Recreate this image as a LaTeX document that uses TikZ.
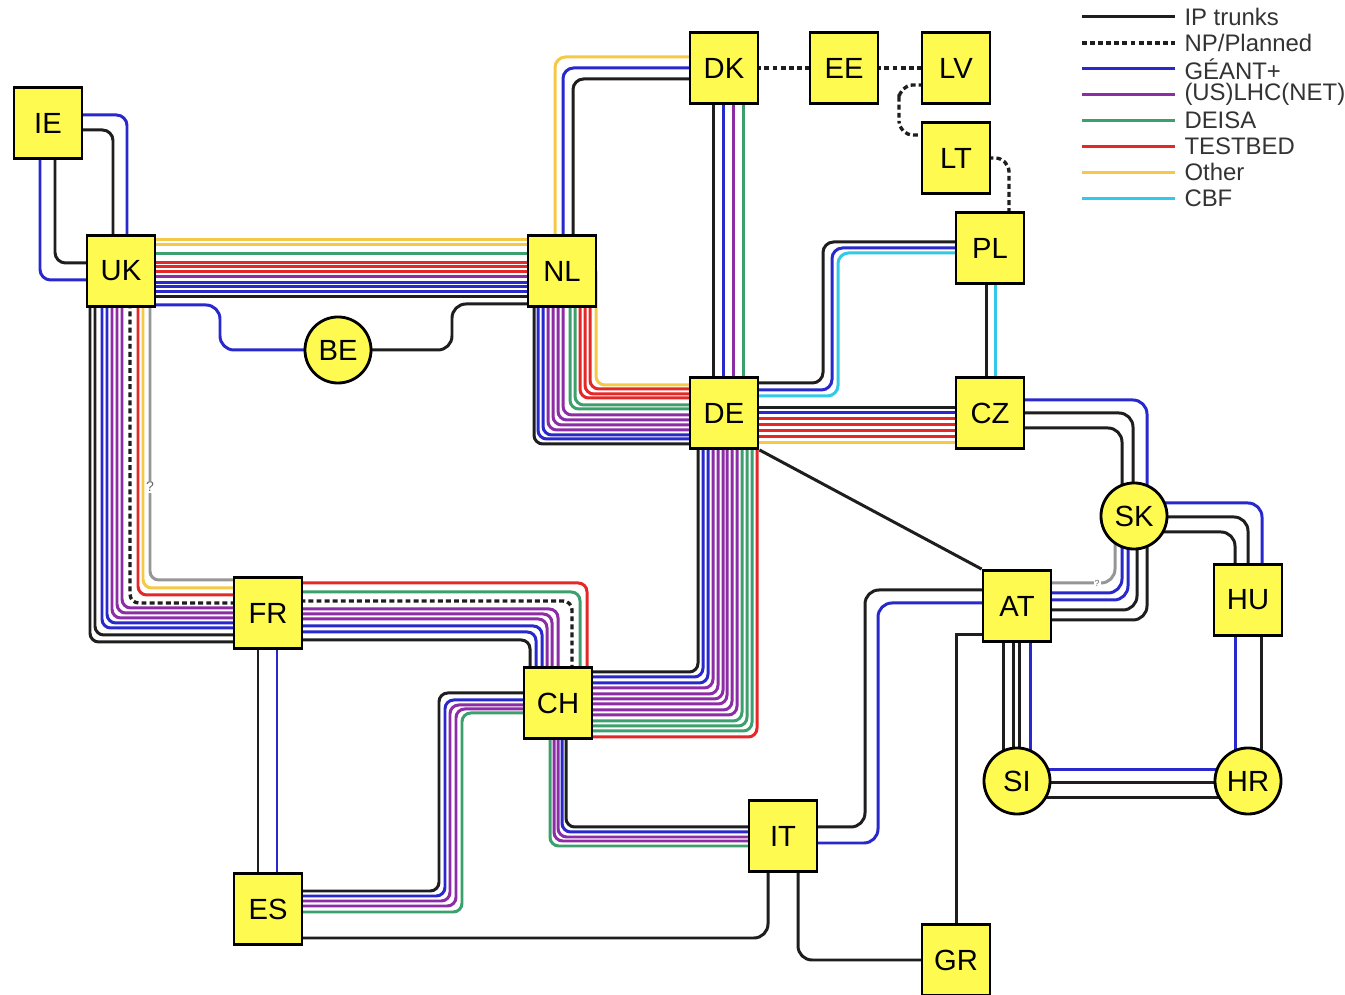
\documentclass[tikz,border=0pt]{standalone}
\usepackage{fontspec}
\setmainfont{Liberation Sans}
\usepackage{tikz}
\usetikzlibrary{calc,backgrounds}

\definecolor{nodeyellow}{RGB}{255,250,80}
\definecolor{linkblack}{RGB}{30,30,30}
\definecolor{linkblue}{RGB}{40,40,205}
\definecolor{linkpurple}{RGB}{140,45,165}
\definecolor{linkgreen}{RGB}{60,160,110}
\definecolor{linkred}{RGB}{228,40,40}
\definecolor{linkyellow}{RGB}{245,200,70}
\definecolor{linkcyan}{RGB}{50,200,232}
\definecolor{linkgray}{RGB}{150,150,150}

\tikzset{
  link/.style={line width=0.85pt, rounded corners=2.5pt},
  iptrunk/.style={link, draw=linkblack},
  planned/.style={link, draw=linkblack, line width=0.95pt, dash pattern=on 1.4pt off 0.9pt},
  geant/.style={link, draw=linkblue},
  lhc/.style={link, draw=linkpurple},
  deisa/.style={link, draw=linkgreen},
  testbed/.style={link, draw=linkred},
  othernet/.style={link, draw=linkyellow},
  cbf/.style={link, draw=linkcyan},
  unknown/.style={link, draw=linkgray},
  country/.style={draw=black, line width=0.8pt, fill=nodeyellow, minimum width=0.68cm,
    minimum height=0.71cm, inner sep=0pt, font=\fontsize{8.3}{9}\selectfont},
  hub/.style={country, circle, minimum size=0.66cm},
  qmark/.style={fill=white, inner sep=0.3pt, text=black!60},
  legtext/.style={inner sep=0.8mm, font=\fontsize{6.8}{7}\selectfont, text=black!80}
}

\begin{document}
\begin{tikzpicture}[x=0.01cm, y=-0.01cm]
  \useasboundingbox (0,0) rectangle (1345,995);

  % Countries
  \node[country] (IE) at (48,123) {IE};
  \node[country] (UK) at (121,271) {UK};
  \node[country] (NL) at (562,271) {NL};
  \node[country] (DK) at (724,68) {DK};
  \node[country] (EE) at (844,68) {EE};
  \node[country] (LV) at (956,68) {LV};
  \node[country] (LT) at (956,158) {LT};
  \node[country] (PL) at (990,248) {PL};
  \node[hub] (BE) at (338,350) {BE};
  \node[country] (DE) at (724,413) {DE};
  \node[country] (CZ) at (990,413) {CZ};
  \node[hub] (SK) at (1134,516) {SK};
  \node[country] (FR) at (268,613) {FR};
  \node[country] (AT) at (1017,606) {AT};
  \node[country] (HU) at (1248,600) {HU};
  \node[country] (CH) at (558,703) {CH};
  \node[hub] (SI) at (1017,781) {SI};
  \node[hub] (HR) at (1248,781) {HR};
  \node[country] (IT) at (783,836) {IT};
  \node[country] (ES) at (268,909) {ES};
  \node[country] (GR) at (956,960) {GR};

  % Question marks on the grey links
  \node[qmark, font=\fontsize{4}{4}\selectfont] (q1) at (150,487) {?};
  \node[qmark, font=\fontsize{2.5}{3}\selectfont] (q2) at (1097,583) {?};

  \begin{scope}[on background layer]
  \fill[white] (0,0) rectangle (1345,995);

  % IE -- UK
  \foreach \st/\a/\b in {geant/-8/6, iptrunk/7/-8}
    \draw[\st, rounded corners=3pt] ($(IE.center)+(0,\a)$) -| ($(UK.center)+(\b,0)$);
  \foreach \st/\a/\b in {geant/-8/9, iptrunk/7/-8}
    \draw[\st, rounded corners=3pt] ($(IE.center)+(\a,0)$) |- ($(UK.center)+(0,\b)$);

  % UK -- NL
  \foreach \st/\d in {othernet/-31, othernet/-26, deisa/-17, testbed/-8, testbed/-4, testbed/1,
                      lhc/6, geant/12, geant/16, geant/21, iptrunk/26}
    \draw[\st] ($(UK.center)+(0,\d)$) -- ($(NL.center)+(0,\d)$);

  % UK -- BE -- NL
  \draw[geant, rounded corners=4pt] ($(UK.center)+(0,34)$) -| ($(BE.center)+(-118,0)$) -- (BE.center);
  \draw[iptrunk, rounded corners=4pt] (BE.center) -| ($(NL.center)+(-110,33)$) -- ($(NL.center)+(0,33)$);

  % NL -- DK
  \foreach \st/\a/\b in {othernet/-7/-11, geant/1/0, iptrunk/11/11}
    \draw[\st, rounded corners=3pt] ($(NL.center)+(\a,0)$) |- ($(DK.center)+(0,\b)$);

  % DK -- DE
  \foreach \st/\a in {iptrunk/-11, geant/-1, lhc/9, deisa/19}
    \draw[\st] ($(DK.center)+(\a,0)$) -- ($(DE.center)+(\a,0)$);

  % NL -- DE
  \foreach \st/\a/\b in {othernet/34/-28, testbed/28/-24, testbed/23/-19, testbed/18/-15,
                         deisa/13/-8, deisa/8/-4, lhc/1/2, lhc/-4/7, lhc/-9/12, lhc/-14/17,
                         geant/-19/22, geant/-24/26, iptrunk/-28/31}
    \draw[\st] ($(NL.center)+(\a,0)$) |- ($(DE.center)+(0,\b)$);

  % DE -- CH
  \foreach \st/\a/\b in {iptrunk/-26/-31, geant/-21/-26, geant/-16/-20, lhc/-11/-15, lhc/-6/-9,
                         lhc/-1/-4, lhc/3/1, lhc/8/7, lhc/13/12, deisa/18/18, deisa/23/23,
                         deisa/28/28, testbed/33/34}
    \draw[\st] ($(DE.center)+(\a,0)$) |- ($(CH.center)+(0,\b)$);

  % UK -- FR
  \foreach \st/\a/\b in {unknown/29/-33, othernet/22/-25, testbed/17/-18, planned/9/-10,
                         lhc/1/-5, lhc/-4/0, lhc/-9/5, geant/-14/10, geant/-19/15,
                         iptrunk/-26/22, iptrunk/-31/29}
    \draw[\st] ($(UK.center)+(\a,0)$) |- ($(FR.center)+(0,\b)$);

  % FR -- CH
  \foreach \st/\a/\b in {iptrunk/27/-28, geant/19/-22, geant/13/-16, lhc/6/-11, lhc/1/-6,
                         lhc/-4/0, planned/-12/14, deisa/-21/22, testbed/-30/29}
    \draw[\st] ($(FR.center)+(0,\a)$) -| ($(CH.center)+(\b,0)$);

  % CH -- ES
  \foreach \st/\a/\b/\c in {iptrunk/-10/-119/-18, geant/-3/-113/-13, lhc/2/-108/-8,
                            lhc/6/-102/-3, deisa/10/-96/3}
    \draw[\st] ($(CH.center)+(0,\a)$) -| ($(CH.center)+(\b,100)$) |- ($(ES.center)+(0,\c)$);

  % CH -- IT
  \foreach \st/\a/\b in {iptrunk/8/-9, geant/4/-4, lhc/0/1, lhc/-4/5, deisa/-8/10}
    \draw[\st] ($(CH.center)+(\a,0)$) |- ($(IT.center)+(0,\b)$);

  % FR -- ES
  \foreach \st/\a in {iptrunk/-10, geant/9}
    \draw[\st] ($(FR.center)+(\a,0)$) -- ($(ES.center)+(\a,0)$);

  % ES -- IT -- GR -- AT
  \draw[iptrunk, rounded corners=4pt] ($(ES.center)+(0,29)$) -| ($(IT.center)+(-15,0)$);
  \draw[iptrunk, rounded corners=4pt] ($(IT.center)+(15,0)$) |- (GR.center);
  \draw[iptrunk, sharp corners] (GR.center) |- ($(AT.center)+(0,29)$);

  % IT -- AT
  \foreach \st/\a/\b/\c in {iptrunk/-9/-152/-16, geant/7/-139/-3}
    \draw[\st, rounded corners=4pt] ($(IT.center)+(0,\a)$) -| ($(AT.center)+(\b,100)$) |- ($(AT.center)+(0,\c)$);

  % DE -- AT
  \draw[iptrunk] (DE.south east) -- (AT.north west);

  % DE -- CZ
  \foreach \st/\a in {iptrunk/-5, geant/0, testbed/6, testbed/12, testbed/18, testbed/24, othernet/30}
    \draw[\st] ($(DE.center)+(0,\a)$) -- ($(CZ.center)+(0,\a)$);

  % DE -- PL
  \foreach \st/\a/\b/\c in {iptrunk/-30/99/-6, geant/-23/108/0, cbf/-17/114/5}
    \draw[\st, rounded corners=3pt] ($(DE.center)+(0,\a)$) -| ($(DE.center)+(\b,-100)$) |- ($(PL.center)+(0,\c)$);

  % PL -- CZ
  \foreach \st/\a in {iptrunk/-4, cbf/5}
    \draw[\st] ($(PL.center)+(\a,0)$) -- ($(CZ.center)+(\a,0)$);

  % CZ -- SK
  \foreach \st/\a/\b in {geant/-13/13, iptrunk/0/-1, iptrunk/15/-12}
    \draw[\st, rounded corners=4pt] ($(CZ.center)+(0,\a)$) -| ($(SK.center)+(\b,0)$);

  % SK -- HU
  \foreach \st/\a/\b in {geant/-13/14, iptrunk/1/0, iptrunk/16/-13}
    \draw[\st, rounded corners=4pt] ($(SK.center)+(0,\a)$) -| ($(HU.center)+(\b,0)$);

  % SK -- AT
  \foreach \st/\a/\b in {unknown/-19/-23, geant/-12/-13, geant/-6/-6, iptrunk/3/4, iptrunk/13/14}
    \draw[\st, rounded corners=4pt] ($(SK.center)+(\a,0)$) |- ($(AT.center)+(0,\b)$);

  % AT -- SI
  \foreach \st/\a in {iptrunk/-14, iptrunk/-4, iptrunk/2, geant/13}
    \draw[\st] ($(AT.center)+(\a,0)$) -- ($(SI.center)+(\a,0)$);

  % SI -- HR
  \foreach \st/\a in {geant/-11, iptrunk/2, iptrunk/17}
    \draw[\st] ($(SI.center)+(0,\a)$) -- ($(HR.center)+(0,\a)$);

  % HU -- HR
  \foreach \st/\a in {geant/-13, iptrunk/13}
    \draw[\st] ($(HU.center)+(\a,0)$) -- ($(HR.center)+(\a,0)$);

  % Baltic (planned)
  \draw[planned] (DK.center) -- (EE.center);
  \draw[planned] (EE.center) -- (LV.center);
  \draw[planned, rounded corners=4pt] ($(LV.center)+(0,17)$) -| ($(LT.center)+(-57,-50)$) |- ($(LT.center)+(0,-23)$);
  \draw[planned, rounded corners=4pt] (LT.center) -| ($(PL.center)+(19,0)$);
  \end{scope}

  % Legend
  \foreach \st/\lab [count=\i from 0] in {iptrunk/{IP trunks}, planned/{NP/Planned}, geant/{GÉANT+},
      lhc/{(US)LHC(NET)}, deisa/{DEISA}, testbed/{TESTBED}, othernet/{Other}, cbf/{CBF}}
    \draw[\st] (1082,17+25.9*\i) -- (1175,17+25.9*\i) node[legtext, right] {\lab};
\end{tikzpicture}
\end{document}
